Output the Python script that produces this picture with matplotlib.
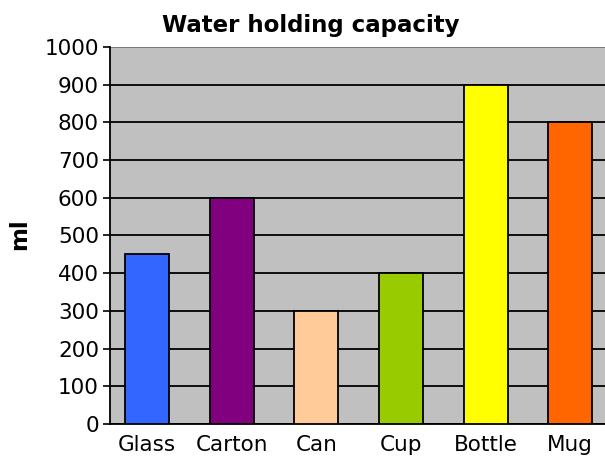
import matplotlib
matplotlib.use("Agg")
import matplotlib.pyplot as plt

# Water holding capacity of containers (ml)
containers = ["Glass", "Carton", "Can", "Cup", "Bottle", "Mug"]
capacity = [450, 600, 300, 400, 900, 800]
bar_colors = ["#3366FF", "#800080", "#FFCC99", "#99CC00", "#FFFF00", "#FF6600"]
y_ticks = [0, 100, 200, 300, 400, 500, 600, 700, 800, 900, 1000]

fig = plt.figure(figsize=(6.05, 4.59), dpi=100)
ax = fig.add_axes([110 / 605, 35 / 459, 1 - 110 / 605, 377 / 459])
ax.set_facecolor("#C0C0C0")

x = list(range(len(containers)))
ax.bar(x, capacity, width=0.52, color=bar_colors, edgecolor="black",
       linewidth=1.3, zorder=3)

ax.set_ylim(0, 1000)
ax.set_xlim(-0.437, 5.41)
ax.set_yticks(y_ticks)
ax.set_yticklabels([str(v) for v in y_ticks], fontsize=15.5)
ax.set_xticks(x)
ax.set_xticklabels(containers, fontsize=15.5)
ax.tick_params(axis="x", length=0, pad=8)
ax.tick_params(axis="y", direction="out", length=5, width=1.2, pad=3)

ax.yaxis.grid(True, color="black", linewidth=1.3, zorder=1)
ax.set_axisbelow(True)

for side in ["right", "top"]:
    ax.spines[side].set_visible(False)
ax.spines["left"].set_linewidth(1.3)
ax.spines["bottom"].set_linewidth(1.3)
# grey top edge of plot area
ax.axhline(1000, color="#909090", linewidth=1.2, zorder=2)

fig.text(20 / 605, 1 - 234 / 459, "ml", rotation=90, fontsize=16.5,
         fontweight="bold", ha="center", va="center")
fig.text(311 / 605, 1 - 32 / 459, "Water holding capacity", fontsize=16.5,
         fontweight="bold", ha="center", va="baseline")

fig.savefig("out.png", dpi=100)
